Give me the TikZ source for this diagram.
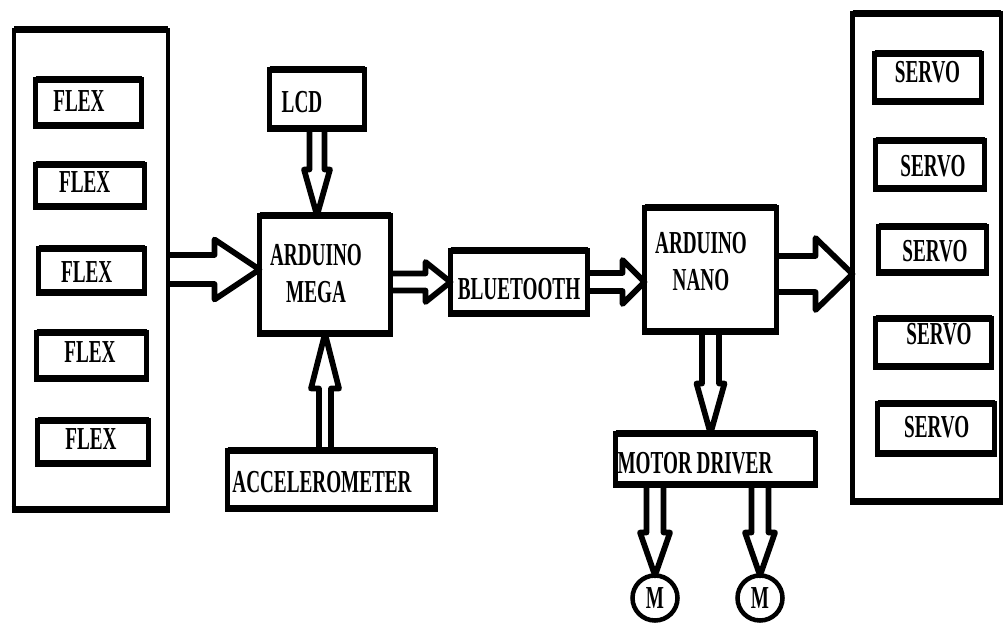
\documentclass[tikz,border=0pt]{standalone}
\usepackage{fontspec}
\newfontfamily\labfont[FakeStretch=0.6]{Liberation Serif}
\usetikzlibrary{calc}
\tikzset{
  bs/.store in=\bS, bh/.store in=\bH, bl/.store in=\bL,
  bs=8, bh=15, bl=40,
  box/.style 2 args={draw, line width=3.4pt, outer sep=0pt, inner sep=0pt,
     minimum width=#1*0.75pt, minimum height=#2*0.75pt},
  hedge/.style={line width=5.25pt, shorten <=-1.7pt, shorten >=-1.7pt},
  txt/.style={font=\labfont\bfseries\fontsize{24}{27.5}\selectfont, align=center, inner sep=0pt},
  mcirc/.style={draw, circle, line width=3.4pt, outer sep=0pt, inner sep=0pt,
     minimum size=45*0.75pt, font=\labfont\bfseries\fontsize{24}{27.5}\selectfont},
  barrow/.style={draw, line width=4.3pt, line join=round,
    to path={let \p1=(\tikztostart), \p2=(\tikztotarget),
      \n1={veclen(\x2-\x1,\y2-\y1)}, \n2={(\x2-\x1)/\n1}, \n3={(\y2-\y1)/\n1},
      \n4={\bS*0.75}, \n5={\bH*0.75}, \n6={\n1-\bL*0.75} in
      ({\x1-\n3*\n4},{\y1+\n2*\n4})
      -- ({\x1+\n2*\n6-\n3*\n4},{\y1+\n3*\n6+\n2*\n4})
      -- ({\x1+\n2*\n6-\n3*\n5},{\y1+\n3*\n6+\n2*\n5})
      -- (\p2)
      -- ({\x1+\n2*\n6+\n3*\n5},{\y1+\n3*\n6-\n2*\n5})
      -- ({\x1+\n2*\n6+\n3*\n4},{\y1+\n3*\n6-\n2*\n4})
      -- ({\x1+\n3*\n4},{\y1-\n2*\n4})}}
}
\begin{document}
\begin{tikzpicture}[x=0.75pt, y=-0.75pt]
\useasboundingbox (0,0) rectangle (1006,627);
% left group
\node[box={154}{479}] (flexgrp) at (91,269.5) {};
\node[box={106}{46}] (flex1) at (88.5,102.5) {};
\node[box={109}{42}] (flex2) at (90,185.5) {};
\node[box={106}{44}] (flex3) at (91.5,270.5) {};
\node[box={110}{46}] (flex4) at (91.5,355.5) {};
\node[box={111}{43}] (flex5) at (93,442) {};
\node[txt] (flex1t) at (79,101) {FLEX};
\node[txt] (flex2t) at (84.7,182) {FLEX};
\node[txt] (flex3t) at (86.7,272) {FLEX};
\node[txt] (flex4t) at (90,352.5) {FLEX};
\node[txt] (flex5t) at (91,439) {FLEX};
% middle
\node[box={95}{59}] (lcd) at (317,99) {};
\node[txt] (lcdt) at (302,101.7) {LCD};
\node[box={131}{118}] (mega) at (325,274.5) {};
\node[txt] (megat) at (316,273.5) {ARDUINO\\MEGA};
\node[box={208}{58}] (acc) at (331.5,479.5) {};
\node[txt] (acct) at (322,482) {ACCELEROMETER};
\node[box={137}{63}] (bt) at (519,282) {};
\node[txt] (btt) at (519,289) {BLUETOOTH};
\node[box={132}{124}] (nano) at (710.5,269.5) {};
\node[txt] (nanot) at (701,261.5) {ARDUINO\\NANO};
\node[box={200}{51}] (md) at (715.5,459) {};
\node[txt] (mdt) at (695,463) {MOTOR DRIVER};
\node[mcirc] (m1) at (655,598) {M};
\node[mcirc] (m2) at (760,598) {M};
% right group
\node[box={148.5}{488}] (servogrp) at (926.75,257.5) {};
\node[box={107}{48}] (s1) at (928,77.5) {};
\node[box={109}{48}] (s2) at (930,164.5) {};
\node[box={108}{46}] (s3) at (932.5,249.5) {};
\node[box={116}{48}] (s4) at (933.5,342.5) {};
\node[box={117}{50}] (s5) at (936,428.5) {};
\node[txt] (s1t) at (927.5,72.5) {SERVO};
\node[txt] (s2t) at (933,166) {SERVO};
\node[txt] (s3t) at (935,251) {SERVO};
\node[txt] (s4t) at (939,334) {SERVO};
\node[txt] (s5t) at (936.7,427.5) {SERVO};
% thicker horizontal edges
\foreach \nm in {flexgrp,flex1,flex2,flex3,flex4,flex5,lcd,mega,acc,bt,nano,md,servogrp,s1,s2,s3,s4,s5}{
  \draw[hedge] (\nm.north west) -- (\nm.north east) (\nm.south west) -- (\nm.south east);
}
% block arrows
\coordinate (ns) at ([yshift=-3.4pt]nano.east);
\draw[barrow, bs=14.5, bh=30, bl=45] (flexgrp.east) to (flexgrp.east -| mega.west);
\draw[barrow, bs=8.5, bh=20, bl=25] (mega.east |- bt.west) to (bt.west);
\draw[barrow, bs=9, bh=22, bl=22] (bt.east) to (bt.east -| nano.west);
\draw[barrow, bs=18, bh=36, bl=37] (ns) to (ns -| servogrp.west);
\draw[barrow, bs=7.5, bh=13, bl=46] (lcd.south) to (lcd.south |- mega.north);
\draw[barrow, bs=6, bh=14, bl=55] (mega.south |- acc.north) to (mega.south);
\draw[barrow, bs=8.5, bh=14, bl=50] (nano.south) to (nano.south |- md.north);
\draw[barrow, bs=8.5, bh=15, bl=43] (md.south -| m1.north) to (m1.north);
\draw[barrow, bs=8.5, bh=15, bl=43] (md.south -| m2.north) to (m2.north);
\end{tikzpicture}
\end{document}
